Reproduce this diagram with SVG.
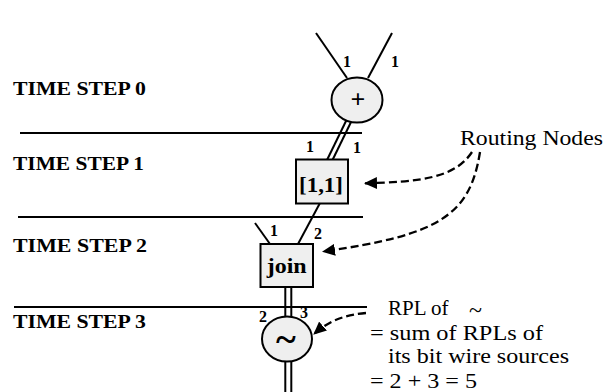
<svg xmlns="http://www.w3.org/2000/svg" width="608" height="392" viewBox="0 0 608 392">
<style>
text{font-family:"Liberation Serif","Times New Roman",serif;fill:#000}
.step{font-size:18px;font-weight:bold}
.lbl{font-size:16px;font-weight:bold}
.note{font-size:21px}
.node{fill:#efefef;stroke:#000;stroke-width:2}
.ntx{font-weight:bold;text-anchor:middle}
.sep{stroke:#000;stroke-width:2}
.wire{stroke:#000;stroke-width:2;fill:none}
.dash{stroke:#000;stroke-width:2.3;fill:none;stroke-dasharray:8 4}
</style>
<defs>
<marker id="ah" markerUnits="userSpaceOnUse" markerWidth="14" markerHeight="12" viewBox="0 0 14 12" refX="12" refY="6" orient="auto">
<path d="M0,0 L13,6 L0,12 Z" fill="#000"/>
</marker>
</defs>
<rect width="608" height="392" fill="#fff"/>

<g id="time-steps">
<line class="sep" x1="20" y1="133" x2="362" y2="133"/>
<line class="sep" x1="18" y1="217" x2="363" y2="217"/>
<line class="sep" x1="14" y1="307" x2="367" y2="307"/>
<text class="step" x="13" y="95" textLength="133" lengthAdjust="spacingAndGlyphs">TIME STEP 0</text>
<text class="step" x="13" y="170" textLength="131" lengthAdjust="spacingAndGlyphs">TIME STEP 1</text>
<text class="step" x="13" y="252" textLength="134" lengthAdjust="spacingAndGlyphs">TIME STEP 2</text>
<text class="step" x="13" y="328" textLength="133" lengthAdjust="spacingAndGlyphs">TIME STEP 3</text>
</g>

<g id="connectors">
<line class="wire" x1="316" y1="33" x2="347" y2="78"/>
<line class="wire" x1="392" y1="33" x2="368" y2="78"/>
<line class="wire" x1="347" y1="119" x2="327" y2="160"/>
<line class="wire" x1="352.5" y1="119" x2="332.5" y2="160"/>
<line class="wire" x1="320" y1="203" x2="298" y2="244"/>
<line class="wire" x1="255" y1="223" x2="270" y2="244"/>
<line class="wire" x1="285.3" y1="287" x2="285.3" y2="317"/>
<line class="wire" x1="291.3" y1="287" x2="291.3" y2="317"/>
<line class="wire" x1="285.3" y1="361" x2="285.3" y2="392"/>
<line class="wire" x1="291.3" y1="361" x2="291.3" y2="392"/>
<path class="dash" d="M472,152 C455,178 420,182 365,183.3" marker-end="url(#ah)"/>
<path class="dash" d="M480,152 C470,215 440,235 323,251.5" marker-end="url(#ah)"/>
<path class="dash" d="M366,313 C345,315 330,320 314,334" marker-end="url(#ah)"/>
</g>

<g id="labels">
<text class="lbl" x="347" y="67" text-anchor="middle">1</text>
<text class="lbl" x="395" y="67" text-anchor="middle">1</text>
<text class="lbl" x="310" y="152" text-anchor="middle">1</text>
<text class="lbl" x="357" y="153" text-anchor="middle">1</text>
<text class="lbl" x="274" y="236" text-anchor="middle">1</text>
<text class="lbl" x="318" y="239" text-anchor="middle">2</text>
<text class="lbl" x="263" y="322" text-anchor="middle">2</text>
<text class="lbl" x="304" y="318" text-anchor="middle">3</text>
</g>

<g id="node-plus">
<ellipse class="node" cx="357" cy="100" rx="25.5" ry="22.5"/>
<text class="ntx" x="358" y="108" font-size="26">+</text>
</g>

<g id="node-route">
<rect class="node" x="296" y="159.5" width="52" height="44"/>
<text class="ntx" x="321" y="191.5" font-size="22" textLength="44" lengthAdjust="spacingAndGlyphs">[1,1]</text>
</g>

<g id="node-join">
<rect class="node" x="260.5" y="244" width="52.5" height="43"/>
<text class="ntx" x="286.7" y="273" font-size="22" textLength="40" lengthAdjust="spacingAndGlyphs">join</text>
</g>

<g id="node-not">
<ellipse class="node" cx="287" cy="339" rx="25" ry="22.5"/>
<text class="ntx" x="286" y="352" font-size="38">~</text>
</g>

<g id="notes">
<text class="note" x="460" y="145" textLength="143" lengthAdjust="spacingAndGlyphs">Routing Nodes</text>
<text class="note" x="388" y="315">RPL of<tspan x="469" font-size="24" dy="3">~</tspan></text>
<text class="note" x="370" y="340" textLength="173" lengthAdjust="spacingAndGlyphs">= sum of RPLs of</text>
<text class="note" x="388" y="363" textLength="181" lengthAdjust="spacingAndGlyphs">its bit wire sources</text>
<text class="note" x="370" y="388" textLength="107" lengthAdjust="spacingAndGlyphs">= 2 + 3 = 5</text>
</g>
</svg>
